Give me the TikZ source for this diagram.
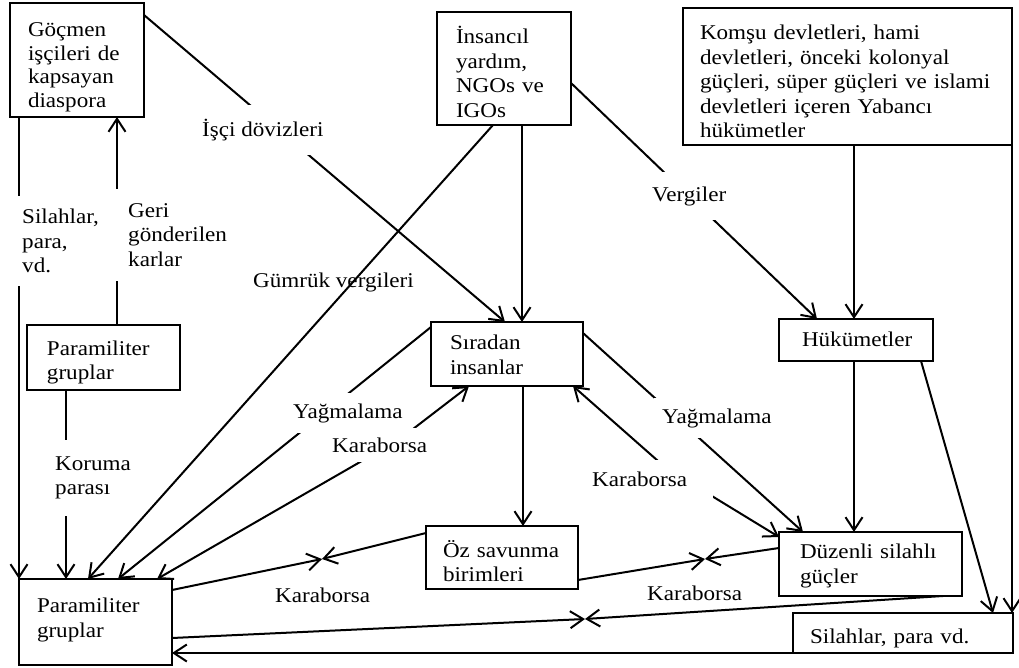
\documentclass[tikz,border=0pt]{standalone}
\usepackage{fontspec}
\setmainfont{Liberation Serif}[FakeStretch=1.1]
\usetikzlibrary{calc,arrows.meta}
\newcommand\bt[3][0]{\par\vspace*{#1pt}\leftskip=#2pt\relax #3\par}
\begin{document}
\begin{tikzpicture}[x=1pt,y=-1pt,
  every node/.style={font=\fontsize{21}{24.5}\selectfont},
  bx/.style={draw, line width=1.5pt, anchor=north west, inner xsep=0pt, inner ysep=0pt, outer sep=0pt, align=left},
  lbl/.style={fill=white, anchor=west, align=left, inner xsep=6pt},
  tip/.tip={Straight Barb[length=13pt,width=17pt]},
  ln/.style={line width=2pt},
  con/.style={ln, -tip},
  dcon/.style={ln, tip-tip}]
\useasboundingbox (0,0) rectangle (1019,668);

% boxes
\node[bx, font=\fontsize{21}{23.5}\selectfont, text width=134pt, minimum height=114pt] (goc) at (10,3) {\bt[5]{18}{Göçmen\\işçileri de\\kapsayan\\diaspora}};
\node[bx, text width=134pt, minimum height=113pt] (ins) at (437,12) {\bt{19}{İnsancıl\\yardım,\\NGOs ve\\IGOs}};
\node[bx, text width=329pt, minimum height=137pt] (kom) at (683,8) {\bt{17}{Komşu devletleri, hami\\devletleri, önceki kolonyal\\güçleri, süper güçleri ve islami\\devletleri içeren Yabancı\\hükümetler}};
\node[bx, text width=153pt, minimum height=65pt] (par1) at (27,325) {\bt{20}{Paramiliter\\gruplar}};
\node[bx, text width=153pt, minimum height=86pt] (par2) at (19,579) {\bt[-14]{18}{Paramiliter\\gruplar}};
\node[bx, text width=152pt, minimum height=64pt] (sir) at (431,322) {\bt[-8]{19}{Sıradan\\insanlar}};
\node[bx, text width=152pt, minimum height=63pt] (oz) at (426,526) {\bt{17}{Öz savunma\\birimleri}};
\node[bx, text width=154pt, minimum height=42pt] (huk) at (779,319) {\bt[-12]{23}{Hükümetler}};
\node[bx, text width=183pt, minimum height=64pt] (duz) at (779,532) {\bt[-6]{21}{Düzenli silahlı\\güçler}};
\node[bx, text width=220pt, minimum height=40pt] (sil) at (793,613) {\bt{17}{Silahlar, para vd.}};

% helper coordinates
\coordinate (kb1) at (400,439);
\coordinate (kb2) at (666,468);
\coordinate (m1) at (322,559);
\coordinate (m2) at (705,559);
\coordinate (m3) at (585,619);

% connectors
\draw[con] ($(goc.south west)+(9,0)$) -- (par2.north west);
\draw[con] ($(par1.north west)+(90,0)$) -- ($(goc.south west)+(107,0)$);
\draw[con] ($(par1.south west)+(39,0)$) -- ($(par2.north west)+(47,0)$);
\draw[con] ($(goc.north east)+(0,12)$) -- ($(sir.north west)+(74,0)$);
\draw[con] ($(ins.south west)+(56,0)$) -- ($(par2.north west)+(69,0)$);
\draw[con] ($(ins.south west)+(85,0)$) -- ($(sir.north west)+(91,0)$);
\draw[con] ($(ins.north east)+(0,71)$) -- ($(huk.north west)+(38,0)$);
\draw[con] ($(kom.south west)+(171,0)$) -- ($(huk.north west)+(75,0)$);
\draw[con] (kom.south east) -- ($(sil.north east)+(-1,0)$);
\draw[con] ($(huk.south west)+(75,0)$) -- ($(duz.north west)+(75,0)$);
\draw[con] ($(huk.south west)+(142,0)$) -- ($(sil.north west)+(200,0)$);
\draw[con] ($(sir.south west)+(92,0)$) -- ($(oz.north west)+(97,0)$);
\draw[con] ($(sir.north west)+(0,5)$) -- ($(par2.north west)+(99,0)$);
\draw[dcon] ($(par2.north west)+(138,0)$) -- (kb1) -- ($(sir.south west)+(38,0)$);
\draw[con] ($(sir.north east)+(0,11)$) -- ($(duz.north west)+(24,0)$);
\draw[dcon] ($(sir.south east)+(-10,0)$) -- (kb2) -- ($(duz.north west)+(0,5)$);
\draw[con] ($(par2.north east)+(0,11)$) -- (m1);
\draw[con] ($(oz.north west)+(0,7)$) -- (m1);
\draw[con] ($(oz.south east)+(0,-9)$) -- (m2);
\draw[con] ($(duz.north west)+(0,16)$) -- (m2);
\draw[con] ($(par2.north east)+(0,59)$) -- (m3);
\draw[con] ($(duz.south west)+(164,0)$) -- (m3);
\draw[con] (sil.south west) -- ($(par2.north east)+(0,74)$);

% labels
\node[lbl, inner ysep=13pt] (lsil) at (16,241) {Silahlar,\\para,\\vd.};
\node[lbl, inner xsep=13pt, inner ysep=14pt] (lger) at (115,235) {Geri\\gönderilen\\karlar};
\node[lbl, inner xsep=5pt, inner ysep=17pt] (lkor) at (50,478) {Koruma\\parası};
\node[lbl, inner ysep=14pt] (lisc) at (196,130) {İşçi dövizleri};
\node[anchor=west, inner xsep=3pt] (lgum) at (250,282) {Gümrük vergileri};
\node[lbl, inner ysep=14pt] (lver) at (646,196) {Vergiler};
\node[lbl, inner ysep=10pt] (lyag1) at (287,413) {Yağmalama};
\node[lbl, inner ysep=10pt] (lkar1) at (326,445) {Karaborsa};
\node[lbl, inner xsep=8pt, inner ysep=10pt] (lyag2) at (654,418) {Yağmalama};
\node[lbl, inner xsep=26pt, inner ysep=12pt] (lkar2) at (566,479) {Karaborsa};
\node[lbl, inner xsep=3pt, inner ysep=3pt] (lkar3) at (272,595) {Karaborsa};
\node[lbl, inner xsep=3pt, inner ysep=3pt] (lkar4) at (644,593) {Karaborsa};
\end{tikzpicture}
\end{document}
